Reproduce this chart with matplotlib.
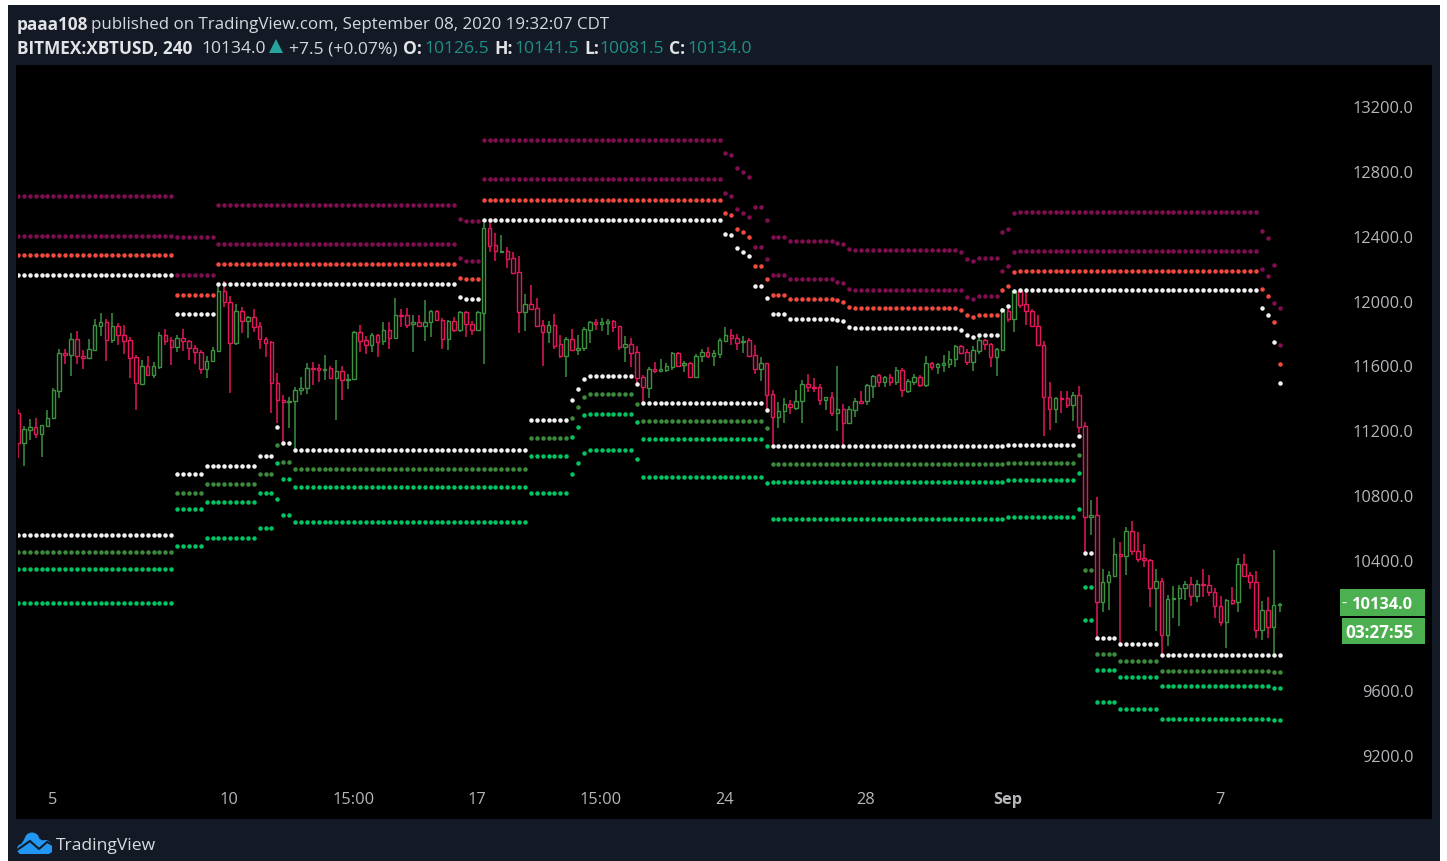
import numpy as np
import matplotlib
matplotlib.use("Agg")
import matplotlib.pyplot as plt
from matplotlib.patches import Rectangle, Circle, Polygon
from matplotlib.lines import Line2D
from matplotlib.transforms import Affine2D, ScaledTranslation

plt.rcParams['font.family'] = ['Open Sans', 'DejaVu Sans']

# ---- candles (4h BITMEX:XBTUSD), prices ----
direction = ("RGGRGGGGRG" "RRGGGRGRRR" "RGRGGRRGRR" "RRGGGRRGRG" "RRRRRRGGGG"
             "RRGRGRGGRR" "GRGRGRRGRG" "GRRGRGRRGG" "RRGRRRGRRR" "GRRGRGGGRG"
             "GRRGRRRGRG" "GGRGRGGRGG" "GRRGRRGRRG" "GRGGRRRGRG" "RGGRGGRGRG"
             "RGGRGRGGGG" "RRGGRRGGRG" "RRRRRRGRRG" "RRGRGGGRGR" "RRRGRGGGGR"
             "GRRRRGRGRR" "RGRGG")

body_top = [11311,11214,11228,11228,11239,11282,11455,11681,11681,11767,
            11767,11664,11705,11853,11872,11872,11845,11845,11792,11759,
            11656,11603,11603,11603,11794,11794,11759,11777,11775,11757,
            11714,11687,11635,11697,12061,12061,11999,11940,11940,11903,
            11903,11845,11767,11748,11496,11393,11387,11455,11465,11586,
            11586,11586,11584,11586,11568,11568,11524,11812,11810,11759,
            11794,11790,11825,11825,11913,11917,11913,11872,11872,11872,
            11938,11938,11888,11880,11878,11932,11934,11862,11934,12453,
            12451,12346,12313,12313,12268,12182,11982,11985,11958,11855,
            11855,11853,11734,11767,11767,11713,11828,11871,11871,11871,
            11880,11880,11845,11740,11740,11688,11534,11584,11584,11584,
            11604,11682,11682,11621,11619,11664,11688,11688,11682,11760,
            11791,11793,11775,11758,11760,11670,11619,11619,11428,11325,
            11368,11368,11385,11489,11489,11473,11471,11411,11411,11335,
            11335,11335,11387,11387,11483,11541,11543,11535,11535,11578,
            11578,11508,11535,11535,11619,11621,11615,11619,11646,11722,
            11726,11689,11699,11761,11761,11740,11707,11952,11942,12065,
            12067,11985,11940,11851,11732,11413,11405,11405,11405,11422,
            11422,11229,10684,10684,10266,10310,10441,10441,10581,10581,
            10458,10414,10406,10277,10277,10164,10172,10231,10258,10258,
            10258,10258,10250,10207,10120,10155,10155,10381,10381,10312,
            10270,10094,10094,10129,10134]

body_bot = [11126,11126,11208,11183,11183,11232,11280,11450,11668,11668,
            11660,11652,11652,11703,11851,11763,11763,11792,11755,11652,
            11496,11492,11545,11545,11598,11757,11720,11720,11755,11712,
            11685,11582,11582,11635,11695,11999,11746,11746,11878,11878,
            11843,11767,11746,11496,11393,11380,11380,11383,11452,11463,
            11580,11578,11578,11529,11529,11516,11516,11520,11753,11730,
            11730,11751,11753,11771,11771,11911,11857,11860,11849,11851,
            11870,11882,11767,11767,11825,11825,11860,11825,11825,11927,
            12342,12309,12303,12264,12178,11937,11937,11952,11849,11814,
            11814,11727,11660,11660,11701,11701,11711,11824,11859,11859,
            11869,11841,11721,11719,11684,11530,11471,11468,11573,11573,
            11575,11598,11604,11610,11536,11536,11660,11660,11660,11678,
            11754,11773,11746,11750,11664,11582,11582,11425,11286,11286,
            11323,11346,11343,11383,11469,11467,11389,11389,11311,11311,
            11249,11249,11331,11376,11383,11479,11504,11504,11504,11500,
            11452,11448,11504,11485,11483,11594,11598,11607,11615,11644,
            11683,11625,11625,11695,11738,11658,11658,11701,11892,11892,
            11979,11938,11847,11730,11409,11337,11337,11399,11362,11362,
            11228,10673,10673,10145,10145,10266,10307,10431,10431,10458,
            10410,10404,10231,10229,9944,9944,10164,10168,10229,10180,
            10180,10250,10205,10118,10022,10022,10141,10143,10309,10266,
            9970,9970,9989,9989,10126.5]

wick_high = [11335,11232,11274,11282,11239,11327,11463,11705,11709,11804,
             11820,11697,11767,11890,11927,11890,11927,11866,11855,11779,
             11672,11640,11664,11629,11812,11829,11779,11794,11829,11763,
             11732,11697,11664,11718,12112,12123,12030,11985,11964,11907,
             11952,11872,11779,11753,11557,11422,11413,11471,11533,11619,
             11623,11615,11672,11603,11640,11603,11553,11818,11853,11788,
             11804,11798,11874,11870,12020,11952,11958,11917,11917,12006,
             11944,11944,11897,11886,11903,11938,11938,11876,11942,12482,
             12503,12420,12410,12334,12307,12281,12046,12098,12019,11882,
             11876,11925,11793,11779,11828,11793,11841,11876,11890,11900,
             11890,11882,11849,11787,11777,11725,11547,11594,11623,11647,
             11619,11688,11688,11631,11623,11676,11707,11717,11701,11777,
             11839,11828,11797,11787,11777,11732,11656,11619,11455,11378,
             11407,11393,11455,11516,11551,11526,11492,11413,11444,11603,
             11368,11352,11403,11448,11492,11547,11553,11541,11551,11594,
             11588,11524,11551,11547,11664,11629,11619,11672,11691,11732,
             11732,11705,11726,11794,11767,11746,11712,11958,11979,12071,
             12075,12071,11952,11915,11753,11500,11413,11448,11448,11438,
             11475,11257,10772,10791,10349,10338,10538,10513,10608,10643,
             10575,10505,10410,10349,10293,10190,10246,10252,10277,10297,
             10283,10349,10314,10231,10180,10164,10237,10416,10443,10330,
             10338,10149,10176,10468,10141.5]

wick_low = [11033,10982,11146,11156,11043,11224,11276,11407,11615,11537,
            11615,11582,11648,11701,11788,11631,11742,11728,11677,11526,
            11331,11483,11537,11526,11582,11728,11605,11685,11691,11640,
            11615,11553,11526,11631,11691,11964,11434,11728,11804,11771,
            11814,11709,11656,11311,11249,11126,11218,11074,11424,11430,
            11485,11502,11516,11520,11269,11389,11459,11516,11685,11677,
            11685,11658,11732,11705,11767,11841,11835,11685,11841,11753,
            11779,11876,11709,11701,11814,11808,11779,11794,11820,11614,
            12307,12246,12297,12205,12176,11804,11820,11952,11841,11604,
            11742,11707,11649,11536,11697,11672,11691,11742,11824,11820,
            11793,11814,11701,11629,11598,11479,11372,11403,11557,11569,
            11565,11577,11598,11567,11530,11532,11623,11649,11604,11649,
            11752,11732,11701,11680,11660,11553,11510,11331,11105,11218,
            11249,11304,11331,11249,11440,11440,11362,11327,11294,11198,
            11115,11245,11284,11368,11362,11407,11469,11469,11475,11483,
            11413,11434,11485,11469,11469,11578,11553,11563,11588,11598,
            11677,11607,11572,11677,11701,11596,11537,11697,11870,11814,
            11958,11855,11841,11722,11167,11208,11249,11311,11341,11259,
            11191,10447,10558,9923,10081,10098,10303,9892,10314,10437,
            10392,10359,10114,9968,9814,9872,10046,9995,10159,10124,
            10143,10176,10180,10046,9995,9865,10129,10087,10305,10227,
            9923,9909,9923,9810,10081.5]

# ---- band levels: bars per step, then the level in each step ----
upper_steps = [27,7,41,1,3,41,1,1,1,1,1,2,1,3,8,1,1,1,18,1,1,1,4,1,1,1,41,1,1,1,1]
band_u1 = [12649,12398,12597,12511,12497,12996,12916,12902,12824,12797,12770,12581,12503,12398,
           12373,12363,12353,12322,12314,12304,12261,12250,12269,12425,12449,12544,12554,12433,
           12390,12225,11958]
band_u2 = [12406,12164,12355,12269,12250,12754,12668,12649,12571,12546,12520,12336,12261,12164,
           12139,12122,12113,12077,12069,12069,12026,12016,12034,12190,12217,12304,12312,12199,
           12156,11991,11730]
band_u3 = [12285,12042,12233,12147,12137,12625,12544,12530,12449,12425,12398,12217,12139,12042,
           12016,12008,11999,11965,11956,11948,11913,11905,11913,12069,12096,12182,12190,12077,
           12034,11870,11611]
band_u4 = [12164,11923,12110,12026,12016,12503,12417,12411,12330,12306,12277,12096,12018,11921,
           11894,11886,11878,11843,11835,11826,11792,11783,11792,11948,11974,12067,12069,11958,
           11915,11749,11498]

lower_steps = [27,5,9,3,1,2,40,7,1,1,1,8,1,21,1,40,12,1,2,4,7,19,2]
band_l1 = [10560,10936,10986,11046,11228,11128,11083,11271,11393,11462,11524,11541,11490,11376,
           11331,11107,11115,11168,10449,9921,9886,9816,9816]
band_l2 = [10457,10821,10873,10935,11117,11012,10969,11158,11280,11350,11411,11428,11368,11263,
           11218,10996,11002,11054,10344,9824,9781,9721,9713]
band_l3 = [10352,10719,10762,10821,11004,10907,10856,11046,11166,11228,11298,11306,11255,11152,
           11107,10883,10899,10943,10241,9729,9686,9627,9616]
band_l4 = [10141,10492,10543,10605,10778,10683,10638,10821,10935,11004,11064,11083,11029,10918,
           10881,10657,10673,10719,10034,9530,9487,9427,9417]

# ---- axis labels ----
price_ticks = [13200,12800,12400,12000,11600,11200,10800,10400,9600,9200]
time_tick_bars = [6,36,57,78,99,120,144,168,204]
time_tick_labels = ['5','10','15:00','17','15:00','24','28','Sep','7']

NAVY = '#131a26'
TEAL = '#1f8f86'
UP = '#3d9140'
DOWN = '#e4175c'
W, H = 1447, 862

fig = plt.figure(figsize=(W/100, H/100), dpi=100, facecolor='white')
pix = Affine2D().scale(1, -1).translate(0, H)   # figure pixels, origin top-left


def fig_rect(x0, y0, x1, y1, color, z=0):
    fig.add_artist(Rectangle((x0, y0), x1-x0, y1-y0, transform=pix,
                             facecolor=color, edgecolor='none', zorder=z))


def fig_text(x, y, s, color='#d6d8dc', size=12.6, weight='normal', ha='left'):
    fig.text(x, y, s, transform=pix, color=color, fontsize=size, fontweight=weight,
             ha=ha, va='center', zorder=5)


fig_rect(8, 6, 1440, 862, NAVY)
fig_rect(16, 66, 18, 820, 'black', z=1)

ax = fig.add_axes([18/W, 1-820/H, 1414/W, 754/H], facecolor='black', zorder=2)
ax.set_xlim(0, (1432-18)/5.895)
ax.set_ylim(13200-(820-107)*6.168+5, 13200+(107-66)*6.168+5)
for s in ax.spines.values():
    s.set_visible(False)

bars = np.arange(len(direction))
top = np.array(body_top, float)
bot = np.array(body_bot, float)
hi = np.array(wick_high, float)
lo = np.array(wick_low, float)
colors = [UP if d == 'G' else DOWN for d in direction]

ax.vlines(bars, lo, hi, colors=colors, linewidth=1.1, zorder=3)
ax.bar(bars, top-bot, bottom=bot, width=0.6, facecolor='#060a06',
       edgecolor=colors, linewidth=1.0, zorder=4)

PURPLE = '#820d50'
RED = '#f4493f'
WHITE = '#f2f2f2'
DKGREEN = '#3c8a3c'
GREEN = '#00c562'
for steps, levels, col in [(upper_steps, band_u1, PURPLE), (upper_steps, band_u2, PURPLE),
                           (upper_steps, band_u3, RED), (upper_steps, band_u4, WHITE),
                           (lower_steps, band_l1, WHITE), (lower_steps, band_l2, DKGREEN),
                           (lower_steps, band_l3, GREEN), (lower_steps, band_l4, GREEN)]:
    ax.scatter(bars, np.repeat(levels, steps), s=10.5, color=col, linewidths=0, zorder=5)

ax.yaxis.tick_right()
ax.set_yticks(price_ticks)
ax.set_yticklabels([f'{p:.1f}' for p in price_ticks], ha='right', color='#b4b6ba', fontsize=11.8)
ax.tick_params(axis='y', length=0, pad=-13.5)
ax.set_xticks(time_tick_bars)
ax.set_xticklabels(time_tick_labels, color='#b4b6ba', fontsize=11.8)
ax.tick_params(axis='x', length=0, pad=-20)
shift_y = ScaledTranslation(0, 0.8/100, fig.dpi_scale_trans)
shift_x = ScaledTranslation(-0.8/100, 0, fig.dpi_scale_trans)
for lab in ax.get_yticklabels():
    lab.set_transform(lab.get_transform() + shift_y)
for lab in ax.get_xticklabels():
    lab.set_transform(lab.get_transform() + shift_x)
    if lab.get_text() == 'Sep':
        lab.set_fontweight('bold')

# ---- header ----
LINE1, LINE2 = 25.0, 49.5
fig_text(17, LINE1, 'paaa108', color='#e2e3e6', size=12.3, weight='bold')
fig_text(91, LINE1, 'published on TradingView.com, September 08, 2020 19:32:07 CDT', size=12.2)
fig_text(17, LINE2, 'BITMEX:XBTUSD, 240', weight='bold', color='#e2e3e6', size=12.4)
fig_text(201, LINE2, '10134.0')
fig.add_artist(Polygon([(269, 54), (283, 54), (276, 40)], closed=True, transform=pix,
                       facecolor='#26a69a', edgecolor='none', zorder=5))
fig_text(289, LINE2, '+7.5 (+0.07%)')
for x_lab, lab, x_val, val in [(403, 'O:', 424, '10126.5'), (494, 'H:', 514, '10141.5'),
                               (584, 'L:', 599, '10081.5'), (669, 'C:', 687, '10134.0')]:
    fig_text(x_lab, LINE2, lab, weight='bold', color='#e2e3e6')
    fig_text(x_val, LINE2, val, color=TEAL)

# ---- last price boxes ----
fig_rect(1340, 590, 1425, 617, '#4caf50', z=6)
fig_rect(1342, 619, 1425, 645, '#4caf50', z=6)
fig.text(1413, 605.5, '10134.0', transform=pix, color='white', fontsize=11.8, fontweight='bold',
         ha='right', va='center', zorder=7)
fig.text(1341, 604, '-', transform=pix, color='white', fontsize=11.8, va='center', zorder=7)
fig.text(1414, 633.5, '03:27:55', transform=pix, color='white', fontsize=12.3, fontweight='bold',
         ha='right', va='center', zorder=7)

# ---- footer logo ----
BLUE = '#2196f3'
for cx, cy, r in [(32, 841, 7.5), (45, 848, 7), (22, 850, 5)]:
    fig.add_artist(Circle((cx, cy), r, transform=pix, facecolor=BLUE, edgecolor='none', zorder=5))
fig.add_artist(Polygon([(17, 851), (26, 838), (40, 840), (52, 848), (52, 853), (49, 855), (20, 855)],
                       closed=True, transform=pix, facecolor=BLUE, edgecolor='none', zorder=5))
fig.add_artist(Line2D([17, 30, 39, 47, 53], [851, 842, 850, 843, 846], transform=pix,
                      color=NAVY, linewidth=1.5, zorder=6))
fig_text(56, 846, 'TradingView', color='#d8dade', size=12.6)

fig.savefig('out.png', dpi=100, facecolor='white')
